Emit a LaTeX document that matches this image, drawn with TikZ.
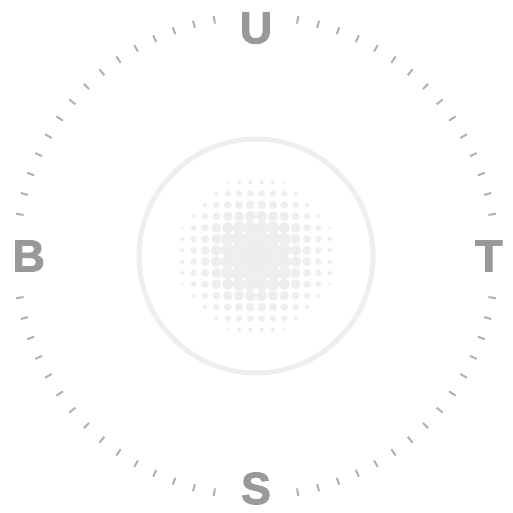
\documentclass[tikz,border=0pt]{standalone}
\usepackage{fontspec}
\usetikzlibrary{calc}
\setmainfont{Liberation Sans}
\newfontface\letterfont{Liberation Sans Bold}[FakeBold=2]
\definecolor{lettergray}{RGB}{153,153,153}
\definecolor{tickgray}{RGB}{176,176,176}
\definecolor{ringgray}{RGB}{238,238,238}
\definecolor{dotgray}{RGB}{238,238,238}
\tikzset{
  letter/.style={text=lettergray, font=\letterfont\fontsize{45}{45}\selectfont, inner sep=0pt},
  tickmark/.style={draw=tickgray, line width=2pt},
  ring/.style={draw=ringgray, line width=5pt},
  halftone/.style={fill=dotgray}
}
\begin{document}
\begin{tikzpicture}[x=1pt,y=-1pt]
\useasboundingbox (0,0) rectangle (513,513);
\coordinate (c) at (256,256);
% ring
\draw[ring] (c) circle[radius=117pt];
% halftone dots
\foreach \i in {0,...,13}{
  \foreach \j in {0,...,13}{
    \pgfmathsetmacro{\dx}{(\i-6.5)*11.333}
    \pgfmathsetmacro{\dy}{(\j-6.5)*11.333}
    \pgfmathsetmacro{\dd}{sqrt(\dx*\dx+\dy*\dy)}
    \pgfmathsetmacro{\rr}{min(7.4,9.6-0.1*\dd)}
    \ifdim\dd pt<80pt
      \fill[halftone] ($(c)+(\dx pt,-\dy pt)$) circle[radius=\rr pt];
    \fi
  }
}
% ticks
\foreach \a in {0,5,...,355}{
  \pgfmathtruncatemacro{\m}{mod(\a,90)}
  \ifnum\m=0\relax\else\ifnum\m=5\relax\else\ifnum\m=85\relax\else
    \draw[tickmark] ($(c)+(\a:236pt)$) -- ($(c)+(\a:243.5pt)$);
  \fi\fi\fi
}
% letters
\node[letter] (u) at (256,28) {U};
\node[letter] (s) at (256,488.5) {S};
\node[letter] (b) at (28.7,256) {B};
\node[letter] (t) at (488.8,256) {T};
\end{tikzpicture}
\end{document}
